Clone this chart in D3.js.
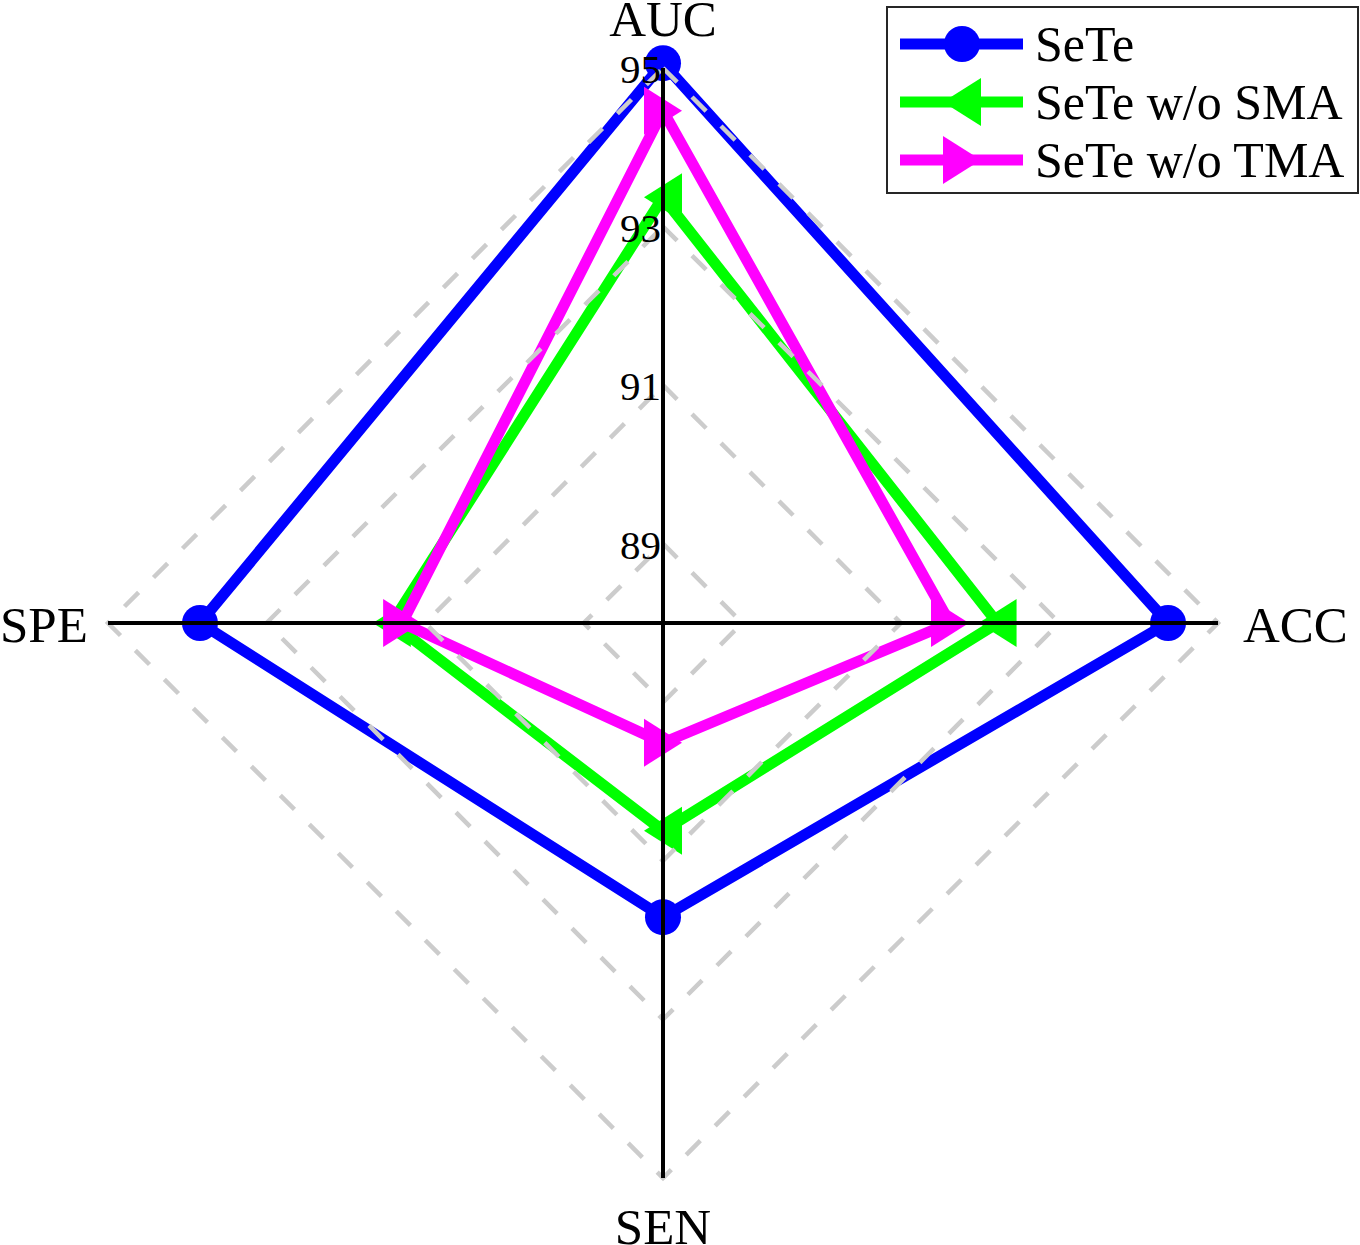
<!DOCTYPE html>
<html>
<head>
<meta charset="utf-8">
<script src="https://cdn.jsdelivr.net/npm/d3@7"></script>
<style>
  html, body { margin: 0; padding: 0; background: #fff; }
  svg { display: block; }
  text { font-family: "Liberation Serif", "Times New Roman", serif; fill: #000; }
</style>
</head>
<body>
<script>
// ---- data ----
const axesNames = ["AUC", "ACC", "SEN", "SPE"];
const seriesNames = ["SeTe", "SeTe w/o SMA", "SeTe w/o TMA"];
const sete      = [95.06, 94.37, 91.71, 93.84];
const woSMA     = [93.37, 92.22, 90.62, 91.42];
const woTMA     = [94.46, 91.62, 89.51, 91.29];
const tickValues = [89, 91, 93, 95];
const tickLabels = ["89", "91", "93", "95"];
const scaleMin = 88, scaleMax = 95;

const seriesValues = [sete, woSMA, woTMA];
const colors = ["#0000ff", "#00ff00", "#ff00ff"];
const markers = ["circle", "tri-left", "tri-right"];

const W = 1360, H = 1245;
const cx = 663, cy = 623, R = 555;

const svg = d3.select("body").append("svg").attr("width", W).attr("height", H);

const r = d3.scaleLinear().domain([scaleMin, scaleMax]).range([0, R]);
const angle = i => -Math.PI / 2 + i * Math.PI / 2;
const pt = (i, v) => [cx + r(v) * Math.cos(angle(i)), cy + r(v) * Math.sin(angle(i))];

// ---- data series ----
const gData = svg.append("g");
const line = d3.line().curve(d3.curveLinearClosed);

function markerPath(type, x, y) {
  if (type === "tri-left") {
    return `M${x - 19},${y} L${x + 19},${y - 24} L${x + 19},${y + 24} Z`;
  } else {
    return `M${x + 19},${y} L${x - 19},${y - 24} L${x - 19},${y + 24} Z`;
  }
}

seriesValues.forEach((vals, s) => {
  const pts = vals.map((v, i) => pt(i, v));
  gData.append("path")
    .attr("d", line(pts))
    .attr("fill", "none")
    .attr("stroke", colors[s])
    .attr("stroke-width", 11)
    .attr("stroke-linejoin", "miter");
  pts.forEach(p => {
    if (markers[s] === "circle") {
      gData.append("circle").attr("cx", p[0]).attr("cy", p[1]).attr("r", 18).attr("fill", colors[s]);
    } else {
      gData.append("path").attr("d", markerPath(markers[s], p[0], p[1])).attr("fill", colors[s]);
    }
  });
});

// ---- grid (dashed diamonds) ----
const gGrid = svg.append("g");
tickValues.forEach(t => {
  const pts = axesNames.map((_, i) => pt(i, t));
  gGrid.append("path")
    .attr("d", line(pts))
    .attr("fill", "none")
    .attr("stroke", "#cccccc")
    .attr("stroke-width", 4.5)
    .attr("stroke-dasharray", "20,21");
});

// ---- axes ----
const gAxes = svg.append("g");
axesNames.forEach((_, i) => {
  const p = pt(i, scaleMax);
  gAxes.append("line")
    .attr("x1", cx).attr("y1", cy)
    .attr("x2", p[0]).attr("y2", p[1])
    .attr("stroke", "#000").attr("stroke-width", 4);
});

// ---- tick labels on AUC axis ----
tickValues.forEach((t, k) => {
  const p = pt(0, t);
  svg.append("text")
    .attr("x", p[0] - 2).attr("y", p[1] + 15)
    .attr("text-anchor", "end")
    .attr("font-size", 41)
    .text(tickLabels[k]);
});

// ---- axis labels ----
const labelPos = [
  {x: cx, y: 36, anchor: "middle"},
  {x: 1243, y: 642, anchor: "start"},
  {x: cx, y: 1244, anchor: "middle"},
  {x: 0, y: 642, anchor: "start"}
];
axesNames.forEach((n, i) => {
  svg.append("text")
    .attr("x", labelPos[i].x).attr("y", labelPos[i].y)
    .attr("text-anchor", labelPos[i].anchor)
    .attr("font-size", 51)
    .text(n);
});

// ---- legend ----
const lg = svg.append("g");
lg.append("rect")
  .attr("x", 887).attr("y", 7).attr("width", 471).attr("height", 186)
  .attr("fill", "#fff").attr("stroke", "#262626").attr("stroke-width", 2);
const rowY = [44, 102, 160];
seriesNames.forEach((name, s) => {
  const y = rowY[s];
  lg.append("line").attr("x1", 900).attr("x2", 1023).attr("y1", y).attr("y2", y)
    .attr("stroke", colors[s]).attr("stroke-width", 11);
  if (markers[s] === "circle") {
    lg.append("circle").attr("cx", 962).attr("cy", y).attr("r", 18).attr("fill", colors[s]);
  } else {
    lg.append("path").attr("d", markerPath(markers[s], 962, y)).attr("fill", colors[s]);
  }
  lg.append("text").attr("x", 1035).attr("y", y + 17)
    .attr("font-size", 50).text(name);
});
</script>
</body>
</html>
